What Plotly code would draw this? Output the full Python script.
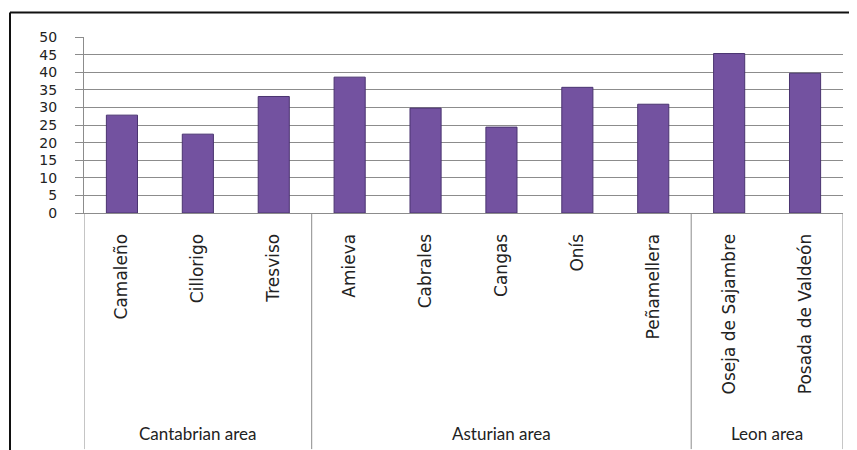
import plotly.graph_objects as go

categories = ["Camaleño", "Cillorigo", "Tresviso", "Amieva", "Cabrales", "Cangas",
              "Onís", "Peñamellera", "Oseja de Sajambre", "Posada de Valdeón"]
values = [27.8, 22.4, 33.1, 38.6, 29.8, 24.4, 35.7, 30.9, 45.3, 39.7]
groups = ["Cantabrian area", "Asturian area", "Leon area"]
group_sizes = [3, 5, 2]
y_ticks = [0, 5, 10, 15, 20, 25, 30, 35, 40, 45, 50]

OFF = 8  # default page body margin
W, H = 857, 450
# plot area in page pixels (from the reference)
PX0, PX1, PY0, PY1 = 84, 843, 37.3, 212.7
L, T = PX0 - OFF, PY0 - OFF
R, B = W - (PX1 - OFF), H - (PY1 - OFF)
pw, ph = PX1 - PX0, PY1 - PY0

def px_to_paper_x(px):
    return (px - PX0) / pw

def px_to_paper_y(py):
    return (PY1 - py) / ph

fig = go.Figure()
fig.add_trace(go.Bar(
    x=list(range(len(categories))), y=values, width=0.41,
    marker=dict(color="#7352A0", line=dict(color="#4A3470", width=1)),
    showlegend=False, hoverinfo="x+y",
))

grey = "#8C8C8C"
shapes = []
annotations = []
start = 0
for g, n in zip(groups, group_sizes):
    annotations.append(dict(
        x=start + (n - 1) / 2, y=px_to_paper_y(432), xref="x", yref="paper",
        text=g, showarrow=False, font=dict(family="Lato", size=17, color="#222"),
        xanchor="center", yanchor="middle"))
    start += n
bounds = [-0.5]
acc = -0.5
for n in group_sizes:
    acc += n
    bounds.append(acc)
for b in bounds:
    shapes.append(dict(type="line", xref="x", yref="paper", x0=b, x1=b,
                       y0=0, y1=px_to_paper_y(448), line=dict(color=grey, width=1)))

# outer frame
shapes.append(dict(type="line", xref="paper", yref="paper",
                   x0=px_to_paper_x(10), x1=px_to_paper_x(W + 10),
                   y0=px_to_paper_y(13), y1=px_to_paper_y(13),
                   line=dict(color="#111", width=2)))
shapes.append(dict(type="line", xref="paper", yref="paper",
                   x0=px_to_paper_x(10), x1=px_to_paper_x(10),
                   y0=px_to_paper_y(13), y1=px_to_paper_y(H + 10),
                   line=dict(color="#111", width=2)))

fig.update_layout(
    width=W, height=H, autosize=False,
    margin=dict(l=L, r=R, t=T, b=B, pad=0),
    paper_bgcolor="white", plot_bgcolor="white",
    shapes=shapes, annotations=annotations,
    xaxis=dict(
        tickmode="array", tickvals=list(range(len(categories))), ticktext=categories,
        tickangle=-90, range=[-0.5, len(categories) - 0.5],
        showgrid=False, showline=True, linecolor=grey, linewidth=1,
        ticks="", ticklabelstandoff=13,
        tickfont=dict(family="DejaVu Sans", size=17, color="#222"),
        zeroline=False, fixedrange=True,
    ),
    yaxis=dict(
        range=[0, 50], tickvals=y_ticks, showgrid=True, gridcolor=grey, gridwidth=1,
        showline=True, linecolor=grey, linewidth=1,
        ticks="outside", ticklen=8, tickcolor=grey, ticklabelstandoff=15,
        tickfont=dict(family="DejaVu Sans", size=14, color="#222"),
        zeroline=False, fixedrange=True,
    ),
)

fig.write_html("out.html")
